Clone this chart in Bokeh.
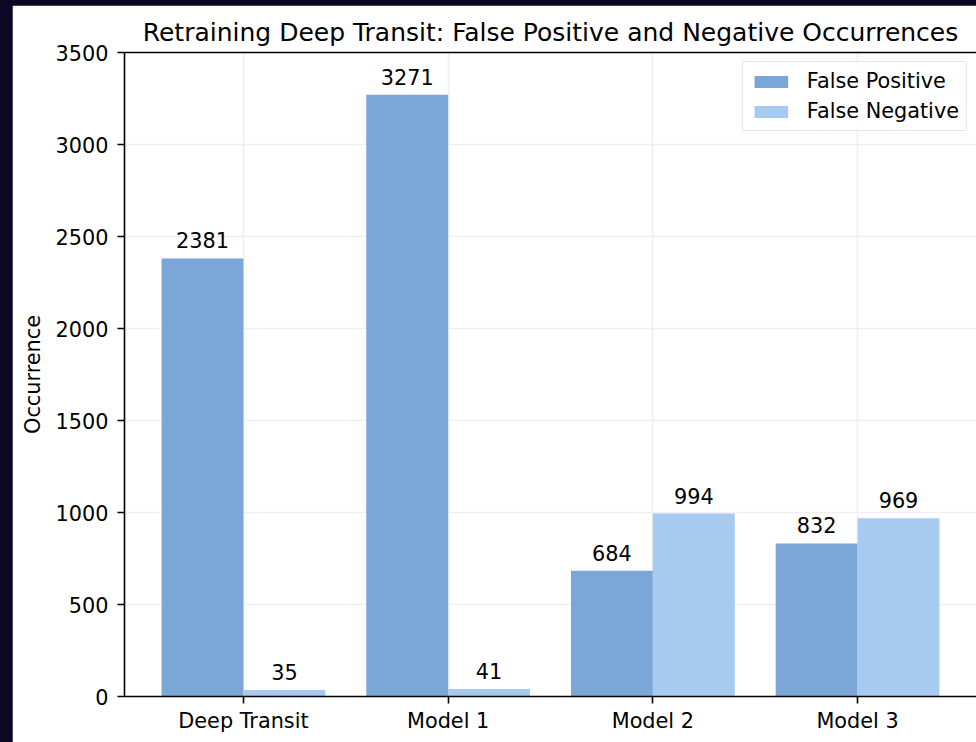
import numpy as np
from bokeh.plotting import figure
from bokeh.models import (Range1d, FixedTicker, LinearAxis, Legend, LegendItem,
                          ColumnDataSource, GlobalInlineStyleSheet)
from bokeh.embed import file_html
from bokeh.resources import INLINE

# ---- data ----
categories = ["Deep Transit", "Model 1", "Model 2", "Model 3"]
false_positive = [2381, 3271, 684, 832]
false_negative = [35, 41, 994, 969]
y_ticks = [0, 500, 1000, 1500, 2000, 2500, 3000, 3500]

FONT = "DejaVu Sans"
FP_COLOR = "#7BA6D8"
FN_COLOR = "#A7CAF1"
TEXT = "#000000"
BAR_W = 0.4

x = np.arange(len(categories))

p = figure(width=964, height=737, output_backend="svg", toolbar_location=None,
           x_range=Range1d(-0.581, 3.581), y_range=Range1d(0, 3500),
           min_border_left=112, min_border_right=0, min_border_top=47,
           min_border_bottom=46)
p.stylesheets = [GlobalInlineStyleSheet(css="html, body {background-color:#0a0822; margin:0; overflow:hidden;} body {padding:5px 0 0 12px;}")]
p.background_fill_color = "white"
p.border_fill_color = "white"
p.outline_line_color = None

src_fp = ColumnDataSource(dict(x=x - BAR_W / 2, top=false_positive,
                               lbl=[str(v) for v in false_positive]))
src_fn = ColumnDataSource(dict(x=x + BAR_W / 2, top=false_negative,
                               lbl=[str(v) for v in false_negative]))

r_fp = p.vbar(x="x", top="top", width=BAR_W, source=src_fp, fill_color=FP_COLOR, line_color=None)
r_fn = p.vbar(x="x", top="top", width=BAR_W, source=src_fn, fill_color=FN_COLOR, line_color=None)

for src in (src_fp, src_fn):
    p.text(x="x", y="top", text="lbl", source=src, text_align="center",
           text_baseline="bottom", y_offset=-10, text_font_size="20.8px",
           text_font={"value": FONT}, text_color=TEXT)

# grids
p.xgrid.ticker = FixedTicker(ticks=list(x))
p.ygrid.ticker = FixedTicker(ticks=y_ticks)
for g in (p.xgrid[0], p.ygrid[0]):
    g.grid_line_color = "#efefef"
    g.grid_line_width = 1.6

# axes
for ax in (p.xaxis[0], p.yaxis[0]):
    ax.axis_line_width = 1.6
    ax.axis_line_color = "black"
    ax.major_tick_line_width = 1.6
    ax.major_tick_line_color = "black"
    ax.major_tick_in = 0
    ax.major_tick_out = 7
    ax.minor_tick_line_color = None
    ax.major_label_text_font = FONT
    ax.major_label_text_font_size = "20.8px"
    ax.major_label_text_color = TEXT

p.xaxis.ticker = FixedTicker(ticks=list(x))
p.xaxis.major_label_overrides = {int(i): c for i, c in zip(x, categories)}
p.xaxis.major_label_standoff = 5
p.yaxis.ticker = FixedTicker(ticks=y_ticks)
p.yaxis.major_label_standoff = 9
p.yaxis.axis_label = "Occurrence"
p.yaxis.axis_label_text_font = FONT
p.yaxis.axis_label_text_font_size = "20.8px"
p.yaxis.axis_label_text_font_style = "normal"
p.yaxis.axis_label_text_color = TEXT
p.yaxis.axis_label_standoff = 8

# top spine
top = LinearAxis(ticker=FixedTicker(ticks=[]), axis_line_width=1.6, axis_line_color="black",
                 major_tick_line_color=None, minor_tick_line_color=None,
                 major_label_text_font_size="0px")
p.add_layout(top, "above")

# title
p.title.text = "Retraining Deep Transit: False Positive and Negative Occurrences"
p.title.text_font = FONT
p.title.text_font_size = "25px"
p.title.text_font_style = "normal"
p.title.text_color = TEXT
p.title.align = "center"
p.title.standoff = 12

legend = Legend(items=[LegendItem(label="False Positive", renderers=[r_fp]),
                       LegendItem(label="False Negative", renderers=[r_fn])],
                location="top_right", margin=9, padding=7, spacing=6,
                glyph_width=42, glyph_height=15, label_standoff=15,
                label_text_font=FONT, label_text_font_size="20.8px",
                label_text_color=TEXT, border_line_color="#cccccc",
                border_line_width=1.6, background_fill_alpha=0.8)
p.add_layout(legend)

open("out.html", "w").write(file_html(p, INLINE))
